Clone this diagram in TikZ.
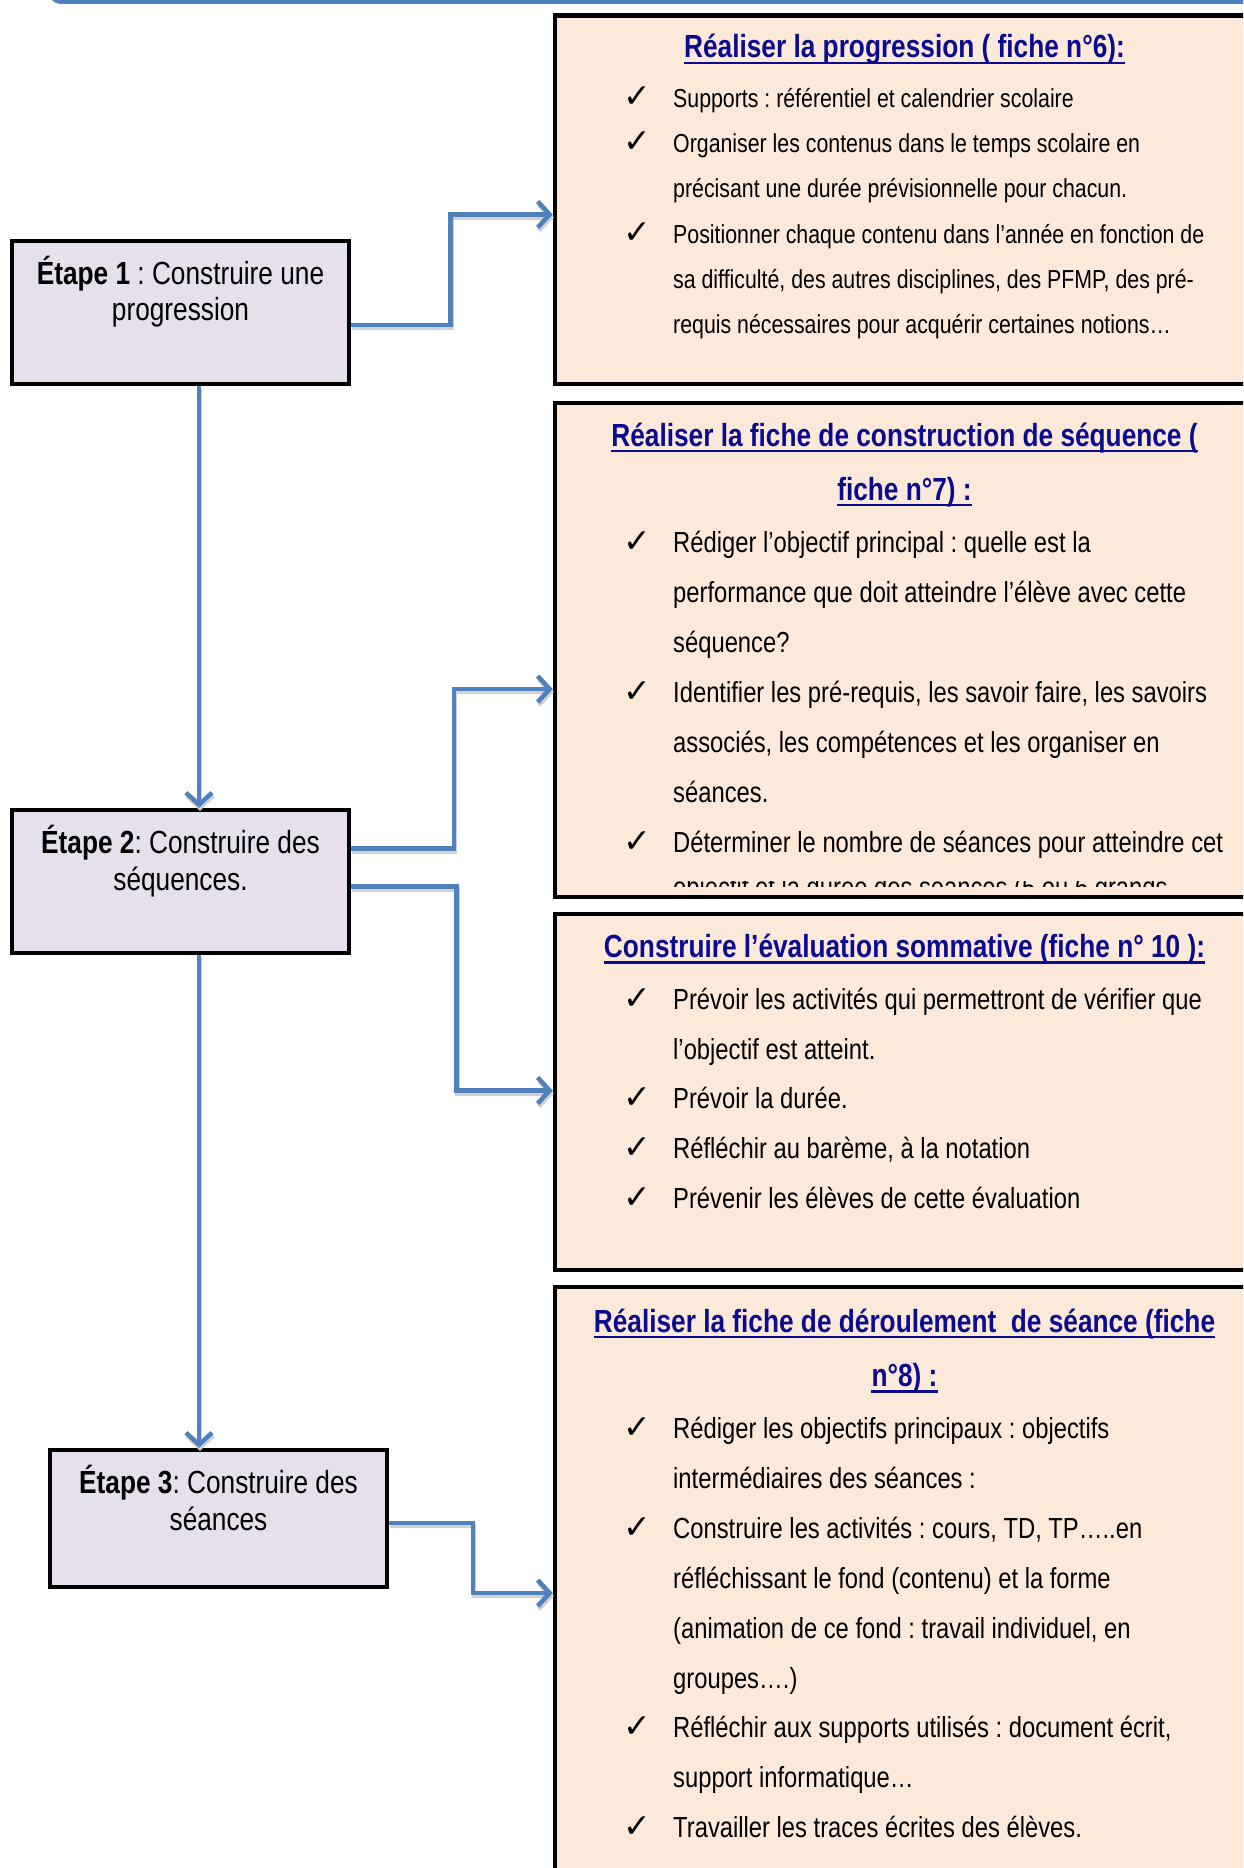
\documentclass[tikz,border=0pt]{standalone}
\usepackage{fontspec}
\setmainfont[FakeStretch=0.82]{Liberation Sans}
\newfontfamily\symfont{DejaVu Sans}
\usetikzlibrary{arrows.meta,calc}
\definecolor{connblue}{HTML}{4F81BD}
\definecolor{peach}{HTML}{FDE9D9}
\definecolor{lav}{HTML}{E5E0EC}
\definecolor{titleblue}{HTML}{0B0B8F}
\newcommand\connector[1]{\draw[connshade,transform canvas={xshift=1pt,yshift=-3pt}] #1;\draw[conn] #1;}
\frenchspacing
\begin{document}
\frenchspacing
\begin{tikzpicture}[x=1pt,y=-1pt,
  fiche/.style={draw=black,line width=4.5pt,fill=peach,inner sep=0pt},
  etape/.style={draw=black,line width=4.5pt,fill=lav,inner sep=0pt,minimum width=337pt,minimum height=143pt},
  conn/.style={draw=connblue,line width=4.5pt,-{Straight Barb[length=12pt,width=26pt]}},
  connshade/.style={conn,draw=black!18},
  body/.style={anchor=base west,inner sep=0pt,font=\fontsize{29}{34}\selectfont},
  bodya/.style={body,font=\fontsize{26}{30}\selectfont},
  chk/.style={anchor=base,inner sep=0pt,font=\symfont\bfseries\fontsize{33}{36}\selectfont},
  ttl/.style={anchor=base,inner sep=0pt,text=titleblue,font=\fontsize{32}{38}\selectfont\bfseries},
  uline/.style={draw=titleblue,line width=2.5pt},
  etxt/.style={anchor=base,inner sep=0pt,font=\fontsize{32}{38}\selectfont},
]
\useasboundingbox (0,0) rectangle (1243,1868);
\clip (0,0) rectangle (1243,1868);

% top frame
\draw[connblue,line width=4pt,rounded corners=14pt] (48,-60) rectangle (1300,2);

% fiche boxes
\node[fiche,minimum width=699pt,minimum height=368.5pt] (A) at (904.5,199.75) {};
\node[fiche,minimum width=699pt,minimum height=494pt] (B) at (904.5,650) {};
\node[fiche,minimum width=699pt,minimum height=356pt] (C) at (904.5,1092) {};
\node[fiche,minimum width=699pt,minimum height=613pt] (D) at (904.5,1593.5) {};

% etape boxes
\node[etape] (e1) at (180.5,312.5) {};
\node[etape] (e2) at (180.5,881.5) {};
\node[etape,minimum height=137pt] (e3) at (218.5,1518.5) {};

\node[etxt] (e1a) at (180.5,284) {\textbf{Étape 1} : Construire une};
\node[etxt] (e1b) at (180.5,320) {progression};
\node[etxt] (e2a) at (180.5,853) {\textbf{Étape 2}: Construire des};
\node[etxt] (e2b) at (180.5,890) {séquences.};
\node[etxt] (e3a) at (218.5,1493) {\textbf{Étape 3}: Construire des};
\node[etxt] (e3b) at (218.5,1530) {séances};

% connectors
\connector{(e1.south -| 199,0) -- (e2.north -| 199,0)}
\connector{(e2.south -| 199,0) -- (e3.north -| 199,0)}
\connector{(e1.east |- 0,325) -- (450.5,325) -- (450.5,214.5) -- (A.west |- 0,214.5)}
\connector{(e2.east |- 0,848.5) -- (454,848.5) -- (454,689) -- (B.west |- 0,689)}
\connector{(e2.east |- 0,886.7) -- (456.5,886.7) -- (456.5,1090.5) -- (C.west |- 0,1090.5)}
\connector{(e3.east |- 0,1523) -- (473,1523) -- (473,1593) -- (D.west |- 0,1593)}

% Box A
\node[ttl] (tA) at (904.5,58) {Réaliser la progression ( fiche n°6):};
\draw[uline] ([yshift=-5pt]tA.base west) -- ([yshift=-5pt]tA.base east);
\node[chk] (ka1) at (637,107) {✓};
\node[bodya] (a1) at (673,107) {Supports : référentiel et calendrier scolaire};
\node[chk] (ka2) at (637,152) {✓};
\node[bodya] (a2) at (673,152) {Organiser les contenus dans le temps scolaire en};
\node[bodya] (a3) at (673,197.5) {précisant une durée prévisionnelle pour chacun.};
\node[chk] (ka4) at (637,243) {✓};
\node[bodya] (a4) at (673,243) {Positionner chaque contenu dans l’année en fonction de};
\node[bodya] (a5) at (673,288) {sa difficulté, des autres disciplines, des PFMP, des pré-};
\node[bodya] (a6) at (673,333) {requis nécessaires pour acquérir certaines notions…};

% Box B
\node[ttl] (tB1) at (904.5,446) {Réaliser la fiche de construction de séquence (};
\draw[uline] ([yshift=-5pt]tB1.base west) -- ([yshift=-5pt]tB1.base east);
\node[ttl] (tB2) at (904.5,500) {fiche n°7) :};
\draw[uline] ([yshift=-5pt]tB2.base west) -- ([yshift=-5pt]tB2.base east);
\node[chk] (kb1) at (637,552) {✓};
\node[body] (b1) at (673,552) {Rédiger l’objectif principal : quelle est la};
\node[body] (b2) at (673,602.5) {performance que doit atteindre l’élève avec cette};
\node[body] (b3) at (673,652.6) {séquence?};
\node[chk] (kb4) at (637,702.6) {✓};
\node[body] (b4) at (673,702.6) {Identifier les pré-requis, les savoir faire, les savoirs};
\node[body] (b5) at (673,752.7) {associés, les compétences et les organiser en};
\node[body] (b6) at (673,802.7) {séances.};
\node[chk] (kb7) at (637,852.8) {✓};
\node[body] (b7) at (673,852.8) {Déterminer le nombre de séances pour atteindre cet};
\begin{scope}
\clip (558,881) rectangle (1254,886);
\node[body] (b8) at (673,897) {objectif et la durée des séances (5 ou 6 grands};
\end{scope}

% Box C
\node[ttl] (tC) at (904.5,957.5) {Construire l’évaluation sommative (fiche n° 10 ):};
\draw[uline] ([yshift=-5pt]tC.base west) -- ([yshift=-5pt]tC.base east);
\node[chk] (kc1) at (637,1009) {✓};
\node[body] (c1) at (673,1009) {Prévoir les activités qui permettront de vérifier que};
\node[body] (c2) at (673,1059) {l’objectif est atteint.};
\node[chk] (kc3) at (637,1108) {✓};
\node[body] (c3) at (673,1108) {Prévoir la durée.};
\node[chk] (kc4) at (637,1158) {✓};
\node[body] (c4) at (673,1158) {Réfléchir au barème, à la notation};
\node[chk] (kc5) at (637,1208) {✓};
\node[body] (c5) at (673,1208) {Prévenir les élèves de cette évaluation};

% Box D
\node[ttl] (tD1) at (904.5,1332) {Réaliser la fiche de déroulement\ \ de séance (fiche};
\draw[uline] ([yshift=-5pt]tD1.base west) -- ([yshift=-5pt]tD1.base east);
\node[ttl] (tD2) at (904.5,1386.5) {n°8) :};
\draw[uline] ([yshift=-5pt]tD2.base west) -- ([yshift=-5pt]tD2.base east);
\node[chk] (kd1) at (637,1438) {✓};
\node[body] (d1) at (673,1438) {Rédiger les objectifs principaux : objectifs};
\node[body] (d2) at (673,1488) {intermédiaires des séances :};
\node[chk] (kd3) at (637,1538) {✓};
\node[body] (d3) at (673,1538) {Construire les activités : cours, TD, TP…..en};
\node[body] (d4) at (673,1588) {réfléchissant le fond (contenu) et la forme};
\node[body] (d5) at (673,1638) {(animation de ce fond : travail individuel, en};
\node[body] (d6) at (673,1688) {groupes….)};
\node[chk] (kd7) at (637,1737) {✓};
\node[body] (d7) at (673,1737) {Réfléchir aux supports utilisés : document écrit,};
\node[body] (d8) at (673,1787) {support informatique…};
\node[chk] (kd9) at (637,1837) {✓};
\node[body] (d9) at (673,1837) {Travailler les traces écrites des élèves.};
\end{tikzpicture}
\end{document}
